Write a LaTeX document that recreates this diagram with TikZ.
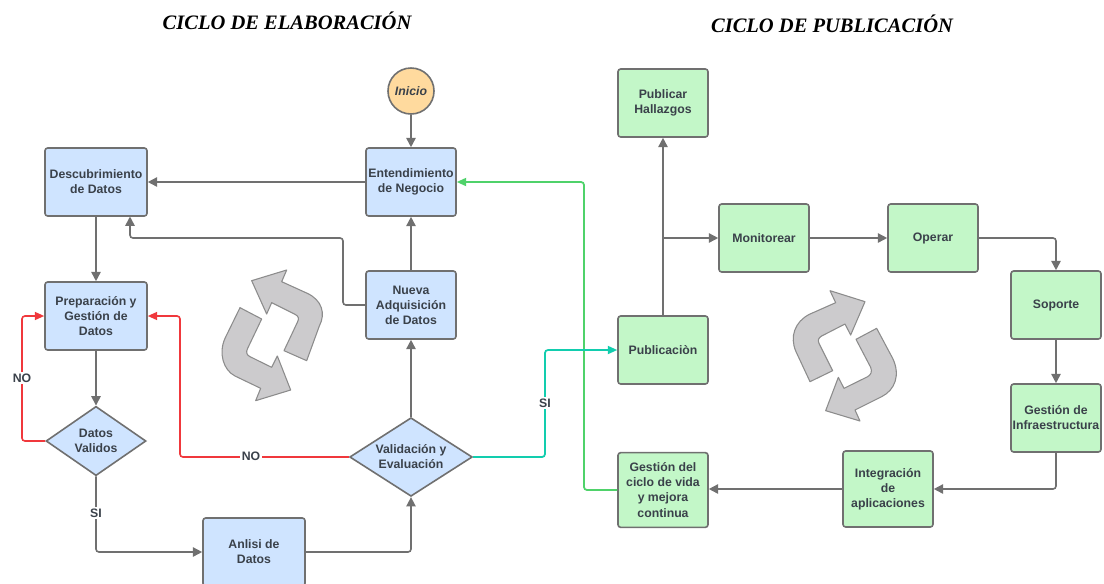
\documentclass[tikz,border=0pt]{standalone}
\usepackage{fontspec}
\setmainfont{Liberation Sans}
\newfontfamily\titlefont{Liberation Serif}
\usetikzlibrary{shapes.geometric,arrows.meta}
\definecolor{blueF}{HTML}{CFE4FF}
\definecolor{greenF}{HTML}{C3F7C8}
\definecolor{orangeF}{HTML}{FFDA9E}
\definecolor{lineG}{HTML}{707070}
\definecolor{txt}{HTML}{3A414A}
\definecolor{redL}{HTML}{F0383C}
\definecolor{greenL}{HTML}{4FD26A}
\definecolor{tealL}{HTML}{12CDAE}
\definecolor{loopF}{HTML}{CCCBCD}
\definecolor{loopL}{HTML}{8C8C8C}
\tikzset{
  x=0.75pt,y=-0.75pt,
  label font/.style={font=\fontsize{9.2pt}{11.3pt}\selectfont\bfseries,text=txt,align=center},
  box/.style={rectangle,rounded corners=2pt,draw=lineG,line width=1.2pt,inner sep=0pt,label font},
  bluebox/.style={box,fill=blueF,minimum width=76.5pt,minimum height=51pt},
  blueboxN/.style={box,fill=blueF,minimum width=67.5pt,minimum height=51pt},
  greenbox/.style={box,fill=greenF,minimum width=67.5pt,minimum height=51pt},
  dia/.style={diamond,aspect=1.56,draw=lineG,line width=1.2pt,fill=blueF,inner sep=0pt,label font},
  conn/.style={draw=lineG,line width=1.2pt,rounded corners=2.2pt,-{Triangle[length=7pt,width=7pt]}},
  redc/.style={conn,draw=redL,-{Triangle[length=7pt,width=6pt]}},
  greenc/.style={conn,draw=greenL,line width=1.3pt,-{Triangle[length=7pt,width=6pt]}},
  tealc/.style={conn,draw=tealL,line width=1.3pt,-{Triangle[length=7pt,width=6pt]}},
  lab/.style={fill=white,inner sep=1pt,label font},
  ttl/.style={font=\titlefont\fontsize{15.4pt}{17pt}\selectfont\bfseries\itshape,text=black},
  loop/.style={draw=loopL,fill=loopF,line width=0.8pt,line join=round}
}
\begin{document}
\begin{tikzpicture}
\path[use as bounding box,fill=white] (0,0) rectangle (1104,583);
\clip (0,0) rectangle (1104,583);
\node[ttl] (t1) at (287,21) {CICLO DE ELABORACIÓN};
\node[ttl] (t2) at (832,24) {CICLO DE PUBLICACIÓN};

\node[circle,draw=lineG,line width=1.2pt,fill=orangeF,minimum size=34.5pt,inner sep=0pt,label font,font=\fontsize{9.2pt}{11pt}\selectfont\bfseries\itshape] (ini) at (411,91) {Inicio};
\node[blueboxN] (ent) at (411,182) {Entendimiento\\de Negocio};
\node[bluebox] (des) at (96,182) {Descubrimiento\\de Datos};
\node[bluebox] (pre) at (96,316) {Preparación y\\Gestión de\\Datos};
\node[dia,minimum width=75pt,minimum height=52pt] (val) at (96,441) {Datos\\Validos};
\node[bluebox] (anl) at (254,552) {Anlisi de\\Datos};
\node[dia,minimum width=92pt,minimum height=59pt] (eva) at (411,457) {Validación y\\Evaluación};
\node[blueboxN] (nue) at (411,305) {Nueva\\Adquisición\\de Datos};

\node[greenbox] (pub) at (663,103) {Publicar\\Hallazgos};
\node[greenbox] (mon) at (764,238) {Monitorear};
\node[greenbox] (ope) at (933,238) {Operar};
\node[greenbox] (sop) at (1056,305) {Soporte};
\node[greenbox] (inf) at (1056,418) {Gestión de\\Infraestructura};
\node[greenbox,minimum height=57pt] (int) at (888,489) {Integración\\de\\aplicaciones};
\node[greenbox,minimum height=56pt] (cic) at (663,490) {Gestión del\\ciclo de vida\\y mejora\\continua};
\node[greenbox] (pcn) at (663,350) {Publicaciòn};

\coordinate (a1) at (343,238);
\coordinate (a2) at (130,238);
\coordinate (a3) at (130,216.5);
\coordinate (r1) at (22,316);
\coordinate (r2) at (180,316);
\coordinate (g1) at (584,182);
\coordinate (s1) at (545,350);
\coordinate (j1) at (663,238);

\draw[conn] (ini) -- (ent);
\draw[conn] (ent) -- (des);
\draw[conn] (des) -- (pre);
\draw[conn] (pre) -- (val);
\draw[conn] (nue) -- (ent);
\draw[conn] (eva) -- (nue);
\draw[conn] (nue.west) -| (a1) -- (a2) -- (a3);
\draw[conn] (val.south) |- (anl.west);
\node[lab] (si1) at (96,513) {SI};
\draw[conn] (anl.east) -| (eva.south);
\draw[redc] (val.west) -| (r1) -- (pre.west);
\node[lab] (no1) at (22,378) {NO};
\draw[redc] (eva.west) -| (r2) -- (pre.east);
\node[lab] (no2) at (251,456) {NO};
\draw[greenc] (cic.west) -| (g1) -- (ent.east);
\draw[tealc] (eva.east) -| (s1) -- (pcn.west);
\node[lab] (si2) at (545,403) {SI};
\draw[conn] (pcn) -- (pub);
\draw[conn] (j1) -- (mon);
\draw[conn] (mon) -- (ope);
\draw[conn] (ope.east) -| (sop.north);
\draw[conn] (sop) -- (inf);
\draw[conn] (inf.south) |- (int.east);
\draw[conn] (int.west) -- (cic.east |- int.west);

% loop arrows, left
\begin{scope}[shift={(200,250)},x=0.25pt,y=-0.25pt]
\draw[loop] (155,92) -- (260,60) -- (245,95) -- (322,130) .. controls (365,150) and (378,190) .. (358,228) -- (320,332) -- (252,302) -- (293,215) .. controls (298,205) and (295,198) .. (285,193) -- (215,158) -- (200,192) -- cycle;
\draw[loop] (120,173) -- (185,207) -- (143,295) .. controls (137,307) and (140,315) .. (150,320) -- (215,352) -- (232,318) -- (272,420) -- (167,452) -- (182,415) -- (105,378) .. controls (70,360) and (55,310) .. (75,265) -- cycle;
\end{scope}
% loop arrows, right
\begin{scope}[shift={(780,280)},x=0.25pt,y=-0.25pt]
\draw[loop] (255,65) -- (150,32) -- (167,68) -- (88,103) .. controls (45,125) and (28,170) .. (48,215) -- (90,305) -- (158,272) -- (117,190) .. controls (113,180) and (115,174) .. (125,168) -- (195,132) -- (212,165) -- cycle;
\draw[loop] (290,145) -- (228,178) -- (272,262) .. controls (277,275) and (273,284) .. (263,290) -- (192,325) -- (175,292) -- (137,392) -- (240,423) -- (225,390) -- (305,350) .. controls (345,330) and (362,285) .. (338,235) -- cycle;
\end{scope}
\end{tikzpicture}
\end{document}
